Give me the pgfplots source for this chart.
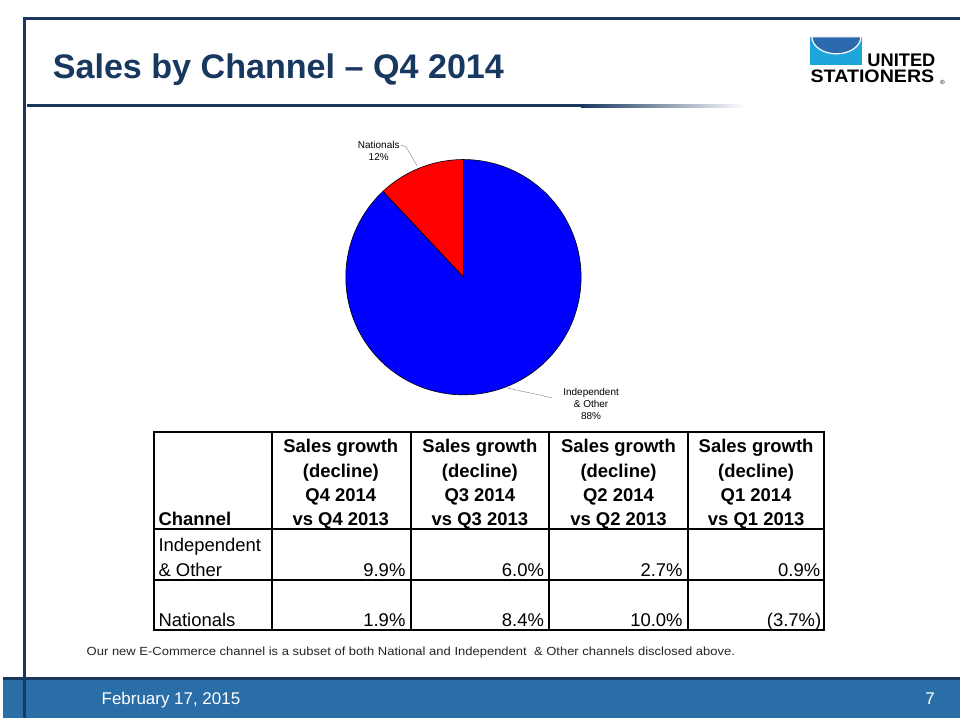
\documentclass[border=0pt]{standalone}
\usepackage{pgfplots}
\pgfplotsset{compat=1.18}
\usepackage{pgfplotstable}
\usepackage{fontspec}
\setmainfont{Liberation Sans}
\definecolor{navy}{RGB}{24,56,96}
\definecolor{footblue}{RGB}{42,110,168}
\definecolor{logocyan}{RGB}{30,165,220}
\definecolor{logoblue}{RGB}{45,105,175}
\pgfplotstableread{
channel share
Nationals 12
Independent 88
}\pietable
\begin{document}
\pgfplotstablegetelem{0}{share}\of\pietable
\let\natshare\pgfplotsretval
\pgfmathsetmacro\aone{90+3.6*\natshare}
\begin{tikzpicture}
\useasboundingbox (0,0) rectangle (960pt,720pt);
\fill[white] (0,0) rectangle (960pt,720pt);
\begin{scope}[x=1pt,y=-1pt,shift={(0pt,720pt)}]
% header
\draw[navy, line width=3pt] (20,18.5) -- (960,18.5);
\node[anchor=base west, inner sep=0, text=navy, font=\fontsize{34.2}{40}\selectfont\bfseries] at (50,79) {Sales by Channel – Q4 2014};
\fill[navy] (24,104.5) rectangle (580,107.5);
\shade[left color=navy, right color=white] (580,104.5) rectangle (745,107.5);
% logo
\fill[logocyan] (810,37) rectangle (862,65);
\filldraw[fill=logoblue, draw=white, line width=1.2pt] (811.5,37) arc[start angle=180, end angle=0, x radius=24.5, y radius=17] -- cycle;
\node[anchor=base west, inner sep=0, font=\fontsize{18.3}{20}\selectfont\bfseries] at (867,66.5) {UNITED};
\node[anchor=base west, inner sep=0, font=\fontsize{19.7}{20}\selectfont\bfseries] at (810,83) {\scalebox{1}[0.92]{STATIONERS}};
\node[anchor=base west, inner sep=0, font=\fontsize{6}{6}\selectfont] at (940,85) {®};
% footer
\fill[footblue] (0,680) rectangle (960,720);
\draw[navy, line width=3pt] (0,680.5) -- (960,680.5);
\draw[navy, line width=3pt] (21.5,17) -- (21.5,720);
\node[anchor=base west, inner sep=0, text=white, font=\fontsize{17}{20}\selectfont] at (99,707) {February 17, 2015};
\node[anchor=base east, inner sep=0, text=white, font=\fontsize{17}{20}\selectfont] at (935,707) {7};
% table
\draw[line width=2pt] (152,433) rectangle (824,632);
\foreach \xx in {270,409,548,687} {\draw[line width=2pt] (\xx,433) -- (\xx,632);}
\draw[line width=2pt] (152,531) -- (824,531);
\draw[line width=2pt] (152,582) -- (824,582);
\begin{scope}[every node/.style={inner sep=0, font=\fontsize{18.5}{24}\selectfont}]
\foreach \cx/\q in {339/4, 478.5/3, 617.5/2, 755.5/1} {
  \node[anchor=base, font=\fontsize{18.5}{24}\selectfont\bfseries] at (\cx,454) {Sales growth};
  \node[anchor=base, font=\fontsize{18.5}{24}\selectfont\bfseries] at (\cx,478.5) {(decline)};
  \node[anchor=base, font=\fontsize{18.5}{24}\selectfont\bfseries] at (\cx,503) {Q\q{} 2014};
  \node[anchor=base, font=\fontsize{18.5}{24}\selectfont\bfseries] at (\cx,527.5) {vs Q\q{} 2013};
}
\node[anchor=base west, font=\fontsize{18.5}{24}\selectfont\bfseries] at (156,527.5) {Channel};
\node[anchor=base west] at (156,553) {Independent};
\node[anchor=base west] at (156,578) {\& Other};
\node[anchor=base west] at (156,628) {Nationals};
\node[anchor=base east] at (404,578) {9.9\%};
\node[anchor=base east] at (543,578) {6.0\%};
\node[anchor=base east] at (682,578) {2.7\%};
\node[anchor=base east] at (820,578) {0.9\%};
\node[anchor=base east] at (404,628) {1.9\%};
\node[anchor=base east] at (543,628) {8.4\%};
\node[anchor=base east] at (682,628) {10.0\%};
\node[anchor=base east] at (821,628) {(3.7\%)};
\end{scope}
\node[anchor=base west, inner sep=0, text=black!85, font=\fontsize{11.8}{14}\selectfont] at (84,657.5) {\scalebox{1.105}[1]{Our new E-Commerce channel is a subset of both National and Independent \ \& Other channels disclosed above.}};
\end{scope}
\begin{axis}[at={(462pt,442pt)}, anchor=center, width=236pt, height=236pt, scale only axis,
  xmin=-1, xmax=1, ymin=-1, ymax=1, hide axis, clip=false]
\addplot[draw=black, fill=red, line width=0.6pt, domain=90:\aone, samples=40, data cs=polar] ({x},{1}) -- (0,0) -- cycle;
\addplot[draw=black, fill=blue, line width=0.6pt, domain=\aone:450, samples=160, data cs=polar] ({x},{1}) -- (0,0) -- cycle;
\node[align=center, inner sep=0, font=\fontsize{10}{12}\selectfont] at (axis cs:-0.72,1.076) {Nationals\\12\%};
\draw[gray] (axis cs:-0.53,1.12) -- (axis cs:-0.49,1.11) -- (axis cs:-0.39,0.94);
\node[align=center, inner sep=0, font=\fontsize{10}{12}\selectfont] at (axis cs:1.085,-1.076) {Independent\\\& Other\\88\%};
\draw[gray] (axis cs:0.364,-0.94) -- (axis cs:0.754,-1.025);
\end{axis}
\end{tikzpicture}
\end{document}
